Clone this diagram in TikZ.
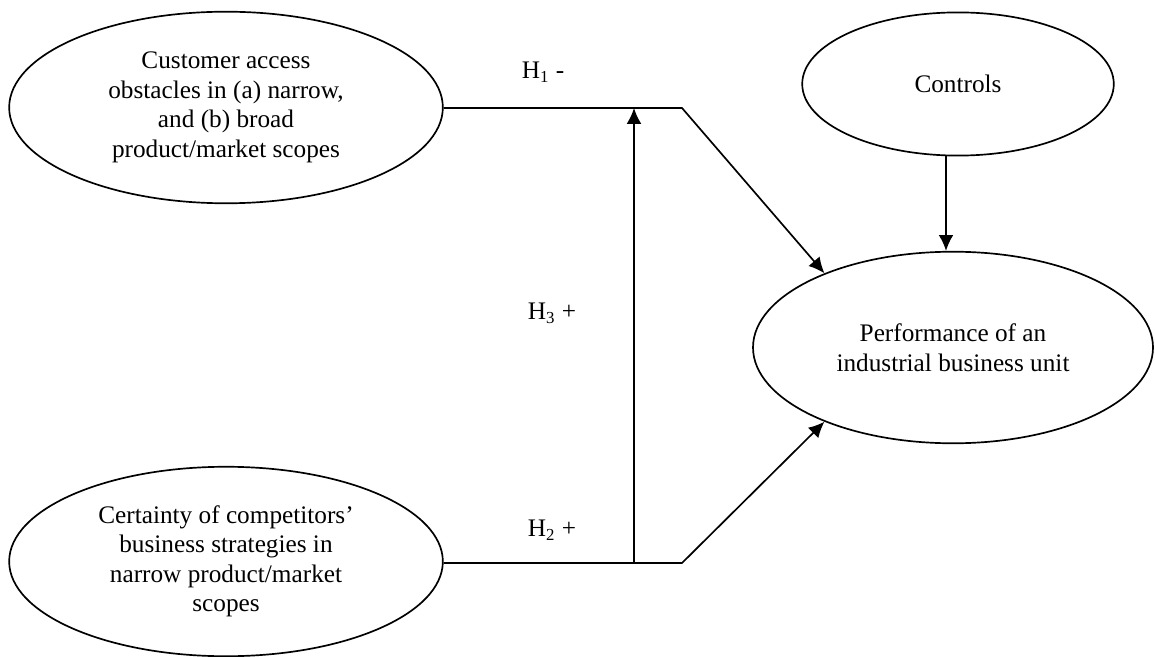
\documentclass[tikz,border=0pt]{standalone}
\usepackage{fontspec}
\setmainfont{Liberation Serif}
\usetikzlibrary{positioning,shapes.geometric,arrows.meta}

\begin{document}
\begin{tikzpicture}[x=0.475pt,y=-0.475pt,>={Latex[length=7.5pt,width=7pt]},
      construct/.style={draw,ellipse,line width=0.8pt,align=center,inner sep=0pt,
                        font=\fontsize{12}{14}\selectfont},
      hyp/.style={font=\fontsize{12}{14}\selectfont,inner sep=0pt},
      path/.style={line width=0.8pt}]
    \useasboundingbox (0,0) rectangle (1155,657);
    % constructs
    \node[construct,minimum width=206pt,minimum height=91pt] (cust) at (226,107.5)
      {Customer access\\ obstacles in (a) narrow,\\ and (b) broad\\ product/market scopes};
    \node[construct,minimum width=206pt,minimum height=90pt] (cert) at (226,561.5)
      {Certainty of competitors'\\ business strategies in\\ narrow product/market\\ scopes};
    \node[construct,minimum width=148pt,minimum height=68pt] (ctrl) at (958,84) {Controls};
    \node[construct,minimum width=190pt,minimum height=91pt] (perf) at (953,347.5)
      {Performance of an\\ industrial business unit};
    % bends and junctions
    \coordinate (bendA) at (682,108);
    \coordinate (bendB) at (682,563);
    \coordinate (modBot) at (634,563);
    \coordinate (modTop) at (634,108);
    \coordinate (ctrlx) at (946,0);
    % paths
    \draw[path,->] (cust.east |- bendA) -- (bendA) -- (perf.150);
    \draw[path,->] (cert.east |- bendB) -- (bendB) -- (perf.210);
    \draw[path,->] (modBot) -- (modTop);
    \draw[path,->] (ctrl.south -| ctrlx) -- (perf.north -| ctrlx);
    % hypotheses
    \node[hyp] (h1) at (543,72) {H\textsubscript{1} -};
    \node[hyp] (h2) at (552,530) {H\textsubscript{2} +};
    \node[hyp] (h3) at (552,313) {H\textsubscript{3} +};
\end{tikzpicture}
\end{document}
